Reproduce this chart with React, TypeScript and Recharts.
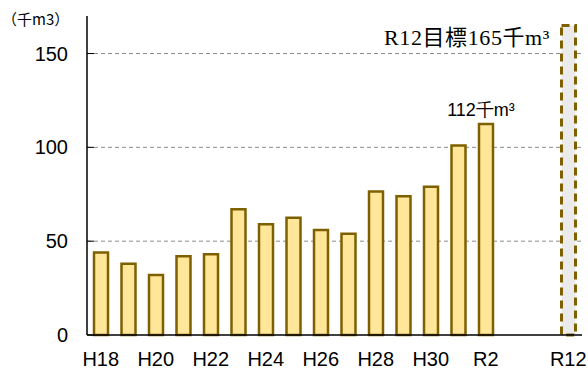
import { BarChart, Bar, XAxis, YAxis, CartesianGrid, Cell, LabelList } from 'recharts';

const categories = ['H18', 'H19', 'H20', 'H21', 'H22', 'H23', 'H24', 'H25', 'H26', 'H27', 'H28', 'H29', 'H30', 'R1', 'R2', 'gap1', 'gap2', 'R12'];
const volumes = [44, 38, 32, 42, 43, 67, 59, 62.5, 56, 54, 76.5, 74, 79, 101, 112.5, null, null, 165];
const shownLabels = ['H18', 'H20', 'H22', 'H24', 'H26', 'H28', 'H30', 'R2', 'R12'];
const yTicks = [0, 50, 100, 150];
const gridValues = [50, 100, 150];
const targetCategory = 'R12';
const latestCategory = 'R2';
const latestLabel = '112千m³';
const unitLabel = '（千m3）';
const targetLabel = 'R12目標165千m³';

const data = categories.map((c, i) => ({ name: c, value: volumes[i] }));

const font = "'Liberation Sans', Arial, sans-serif";

function LatestLabel(props: any) {
  const { x, y, width, index } = props;
  if (categories[index] !== latestCategory) return null;
  return (
    <text x={x + width / 2 - 5} y={y - 8} textAnchor="middle" fontSize={18} fontFamily={font} fill="#000">
      {latestLabel}
    </text>
  );
}

export default function App() {
  return (
    <div style={{ position: 'relative', width: 588, height: 371, background: '#fff' }}>
      <style>{`body{margin:0}`}</style>
      <BarChart
        width={588}
        height={371}
        data={data}
        margin={{ top: 16, right: 6, left: 0, bottom: 6 }}
        barCategoryGap={0}
      >
        <CartesianGrid vertical={false} stroke="#8c8c8c" strokeDasharray="4 3" horizontalValues={gridValues} />
        <XAxis
          dataKey="name"
          interval={0}
          tickLine={false}
          axisLine={{ stroke: '#000', strokeWidth: 1.5 }}
          tickMargin={11}
          tick={{ fill: '#000', fontSize: 20, fontFamily: font }}
          tickFormatter={(v) => (shownLabels.includes(v) ? v : '')}
        />
        <YAxis
          width={87}
          domain={[0, 170]}
          ticks={yTicks}
          interval={0}
          tickSize={-7}
          tickMargin={26}
          axisLine={{ stroke: '#000', strokeWidth: 1.5 }}
          tickLine={{ stroke: '#000' }}
          tick={{ fill: '#000', fontSize: 20, fontFamily: font }}
        />
        <Bar dataKey="value" barSize={14} isAnimationActive={false} fill="#FFE699" stroke="#7F6000" strokeWidth={2.5}>
          {data.map((d, i) =>
            d.name === targetCategory ? (
              <Cell key={i} fill="#EBEBEB" stroke="#7F6000" strokeWidth={3} strokeDasharray="8 5" />
            ) : (
              <Cell key={i} fill="#FFE699" stroke="#7F6000" />
            )
          )}
          <LabelList dataKey="value" content={LatestLabel} />
        </Bar>
      </BarChart>
      <svg width={588} height={371} style={{ position: 'absolute', left: 0, top: 0, pointerEvents: 'none' }}>
        <text x={2} y={25} fontSize={15} fontFamily="'Noto Sans CJK JP', sans-serif" fill="#000">
          {unitLabel}
        </text>
        <text x={550} y={45} textAnchor="end" fontSize={22} letterSpacing={0.6} fontFamily="'Liberation Serif', 'Noto Sans CJK JP', serif" fill="#000">
          {targetLabel}
        </text>
      </svg>
    </div>
  );
}
